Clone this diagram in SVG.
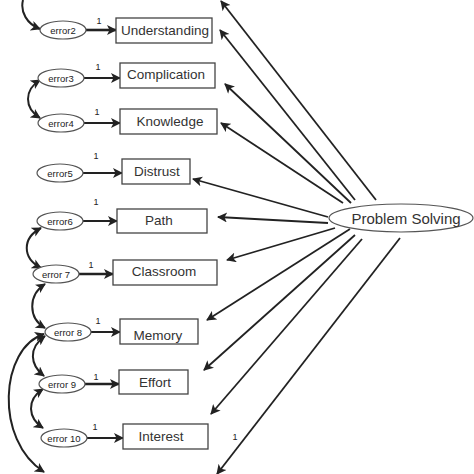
<svg xmlns="http://www.w3.org/2000/svg" width="474" height="474" viewBox="0 0 474 474">
<defs>
<style>
.box{fill:#fff;stroke:#444;stroke-width:1.3}
.err{fill:#fff;stroke:#555;stroke-width:1.2}
.bt{font-family:"Liberation Sans",Arial,sans-serif;font-size:13.5px;fill:#333;text-anchor:middle}
.et{font-family:"Liberation Sans",Arial,sans-serif;font-size:9.5px;fill:#222;text-anchor:middle}
.one{font-family:"Liberation Sans",Arial,sans-serif;font-size:9px;fill:#222;text-anchor:middle}
.pst{font-family:"Liberation Sans",Arial,sans-serif;font-size:15px;fill:#333;text-anchor:middle}
.a{fill:none;stroke:#222;stroke-width:2;marker-end:url(#ah)}
.ab{fill:none;stroke:#222;stroke-width:2.6;marker-end:url(#ah)}
.p{fill:none;stroke:#222;stroke-width:1.8;marker-end:url(#ah)}
.c{fill:none;stroke:#222;stroke-width:2;marker-end:url(#ah);marker-start:url(#ah)}
</style>
<marker id="ah" viewBox="0 0 10 10" refX="9" refY="5" markerWidth="11" markerHeight="10" markerUnits="userSpaceOnUse" orient="auto-start-reverse">
<path d="M0,0 L10,5 L0,10 L2.5,5 z" fill="#222"/>
</marker>
</defs>
<rect width="474" height="474" fill="#fff"/>
<g id="connectors">
<path class="ab" d="M86,30 L116,30"/>
<path class="a" d="M84,78 L120,78"/>
<path class="a" d="M84,123 L120,123"/>
<path class="a" d="M83,173 L122,173"/>
<path class="a" d="M83,221 L117,221"/>
<path class="ab" d="M79,274 L113,274"/>
<path class="a" d="M91,332 L120,332"/>
<path class="ab" d="M85,384 L119,384"/>
<path class="a" d="M87,438 L123,438"/>
<path class="p" d="M376,200 L221,1"/>
<path class="p" d="M355,200 L220,30"/>
<path class="p" d="M351,203 L225,84"/>
<path class="p" d="M343,203 L221,123"/>
<path class="p" d="M328,217 L193,179"/>
<path class="p" d="M328,223 L218,217"/>
<path class="p" d="M335,228 L227,260"/>
<path class="p" d="M350,229 L207,320"/>
<path class="p" d="M355,235 L204,370"/>
<path class="p" d="M362,239 L211,414"/>
<path class="p" d="M400,238 L217,474"/>
<path class="a" d="M23,0 C20,12 27,24 40,29"/>
<path class="c" d="M40,80 C24,90 24,108 40,118"/>
<path class="c" d="M41,228 C22,238 22,258 41,268"/>
<path class="c" d="M45,284 C28,295 28,318 45,328"/>
<path class="c" d="M45,336 C28,348 30,365 44,376"/>
<path class="c" d="M43,389 C26,400 28,418 43,428"/>
<path class="c" d="M44,334 C0,348 -6,440 44,472"/>
<text class="one" x="99" y="24">1</text>
<text class="one" x="98" y="70">1</text>
<text class="one" x="97" y="115">1</text>
<text class="one" x="96" y="159">1</text>
<text class="one" x="96" y="205">1</text>
<text class="one" x="91" y="268">1</text>
<text class="one" x="98" y="324">1</text>
<text class="one" x="96" y="380">1</text>
<text class="one" x="95" y="430">1</text>
<text class="one" x="235" y="440">1</text>
</g>
<g id="error2"><ellipse class="err" cx="63" cy="30" rx="23" ry="9"/><text class="et" x="63" y="33.5">error2</text></g>
<g id="error3"><ellipse class="err" cx="61" cy="78" rx="23" ry="9"/><text class="et" x="61" y="81.5">error3</text></g>
<g id="error4"><ellipse class="err" cx="61" cy="123" rx="23" ry="9"/><text class="et" x="61" y="126.5">error4</text></g>
<g id="error5"><ellipse class="err" cx="60" cy="173" rx="23" ry="9"/><text class="et" x="60" y="176.5">error5</text></g>
<g id="error6"><ellipse class="err" cx="60" cy="221" rx="23" ry="9"/><text class="et" x="60" y="224.5">error6</text></g>
<g id="error7"><ellipse class="err" cx="56" cy="274" rx="23" ry="9"/><text class="et" x="56" y="277.5">error 7</text></g>
<g id="error8"><ellipse class="err" cx="68" cy="332" rx="23" ry="9"/><text class="et" x="68" y="335.5">error 8</text></g>
<g id="error9"><ellipse class="err" cx="62" cy="384" rx="23" ry="9"/><text class="et" x="62" y="387.5">error 9</text></g>
<g id="error10"><ellipse class="err" cx="64" cy="438" rx="23" ry="9"/><text class="et" x="64" y="441.5">error 10</text></g>
<g id="understanding"><rect class="box" x="116" y="18" width="96" height="25"/><text class="bt" x="165" y="35">Understanding</text></g>
<g id="complication"><rect class="box" x="120" y="63" width="95" height="25"/><text class="bt" x="166" y="79">Complication</text></g>
<g id="knowledge"><rect class="box" x="120" y="109" width="97" height="25"/><text class="bt" x="170" y="126">Knowledge</text></g>
<g id="distrust"><rect class="box" x="122" y="159" width="68" height="25"/><text class="bt" x="157" y="176">Distrust</text></g>
<g id="path"><rect class="box" x="117" y="209" width="90" height="24"/><text class="bt" x="159" y="225">Path</text></g>
<g id="classroom"><rect class="box" x="113" y="260" width="104" height="25"/><text class="bt" x="164" y="276">Classroom</text></g>
<g id="memory"><rect class="box" x="120" y="319" width="78" height="25"/><text class="bt" x="158" y="340">Memory</text></g>
<g id="effort"><rect class="box" x="119" y="370" width="69" height="24"/><text class="bt" x="155" y="387">Effort</text></g>
<g id="interest"><rect class="box" x="123" y="424" width="85" height="25"/><text class="bt" x="161" y="441">Interest</text></g>
<g id="problem-solving"><ellipse class="err" cx="401" cy="218" rx="72" ry="14"/><text class="pst" x="406" y="223.5">Problem Solving</text></g>
</svg>
